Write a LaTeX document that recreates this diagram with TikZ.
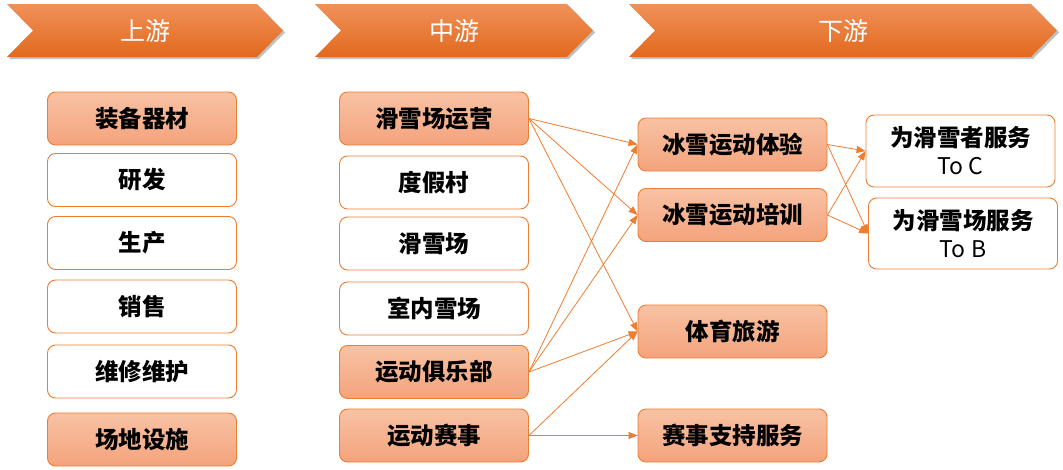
\documentclass[tikz,border=0pt]{standalone}
\usepackage{fontspec}
\setmainfont{Noto Sans CJK SC}
\usepackage{tikz}
\usetikzlibrary{arrows.meta}
\usetikzlibrary{shadows}

\definecolor{linec}{HTML}{ED7D31}
\definecolor{boxtop}{HTML}{F8C2A4}
\definecolor{boxbot}{HTML}{F4A37C}
\definecolor{chevtop}{HTML}{F0915A}
\definecolor{chevmid}{HTML}{F27A2C}
\definecolor{chevbot}{HTML}{E2691C}

\tikzset{
  item/.style={draw=linec, line width=0.9pt, rounded corners=8pt, minimum width=189pt, minimum height=53pt, inner sep=0pt, align=center, font=\fontsize{23.5}{28}\selectfont\bfseries},
  hot/.style={item, top color=boxtop, bottom color=boxbot},
  plain/.style={item, fill=white},
  link/.style={draw=linec, line width=0.8pt, -{Triangle[length=9pt,width=7pt]}},
  stagetext/.style={text=white, font=\fontsize{25}{28}\selectfont},
}

\begin{document}
\begin{tikzpicture}[x=1pt, y=-1pt]
\useasboundingbox (0,0) rectangle (1063,469);

% chevrons
\foreach \a/\b/\c/\lab in {7/257/upper/上游, 315/567/middle/中游, 629/1031/lower/下游} {
  \shade[top color=chevtop, middle color=chevmid, bottom color=chevbot,
         drop shadow={shadow xshift=2pt, shadow yshift=-2pt, fill=black!70, opacity=0.35}]
    (\a,4) -- (\b,4) -- (\b+26,30.5) -- (\b,57) -- (\a,57) -- (\a+26,30.5) -- cycle;
  \node[stagetext] (\c) at ({(\a+\b+26)/2},31) {\lab};
}

% upstream
\node[hot]   (equip)  at (142,118.5) {装备器材};
\node[plain] (rnd)    at (142,180)   {研发};
\node[plain] (prod)   at (142,243)   {生产};
\node[plain] (sale)   at (142,306.5) {销售};
\node[plain] (repair) at (142,371.5) {维修维护};
\node[hot]   (site)   at (142,439.5) {场地设施};

% midstream
\node[hot]   (oper)   at (434,118.5) {滑雪场运营};
\node[plain] (resort) at (434,182.5) {度假村};
\node[plain] (slope)  at (434,243.5) {滑雪场};
\node[plain] (indoor) at (434,308.5) {室内雪场};
\node[hot]   (club)   at (434,372)   {运动俱乐部};
\node[hot]   (event)  at (434,435.5) {运动赛事};

% downstream
\node[hot] (exper)   at (732.5,144.5) {冰雪运动体验};
\node[hot] (train)   at (732.5,215)   {冰雪运动培训};
\node[hot] (tour)    at (732.5,331.5) {体育旅游};
\node[hot] (support) at (732.5,435.5) {赛事支持服务};

\node[plain, minimum height=72pt] (toc) at (960.5,151)
  {为滑雪者服务\\{\mdseries\fontsize{23}{28}\selectfont To C}};
\node[plain, minimum height=71pt] (tob) at (963,233.5)
  {为滑雪场服务\\{\mdseries\fontsize{23}{28}\selectfont To B}};

% links
\draw[link] (oper.east) -- (exper.west);
\draw[link] (oper.east) -- (train.west);
\draw[link] (oper.east) -- (tour.west);
\draw[link] (club.east) -- (exper.west);
\draw[link] (club.east) -- (train.west);
\draw[link] (club.east) -- (tour.west);
\draw[link] (event.east) -- (tour.west);
\draw[link] (event.east) -- (support.west);
\draw[link] (exper.east) -- (toc.west);
\draw[link] (exper.east) -- (tob.west);
\draw[link] (train.east) -- (toc.west);
\draw[link] (train.east) -- (tob.west);
\end{tikzpicture}
\end{document}
